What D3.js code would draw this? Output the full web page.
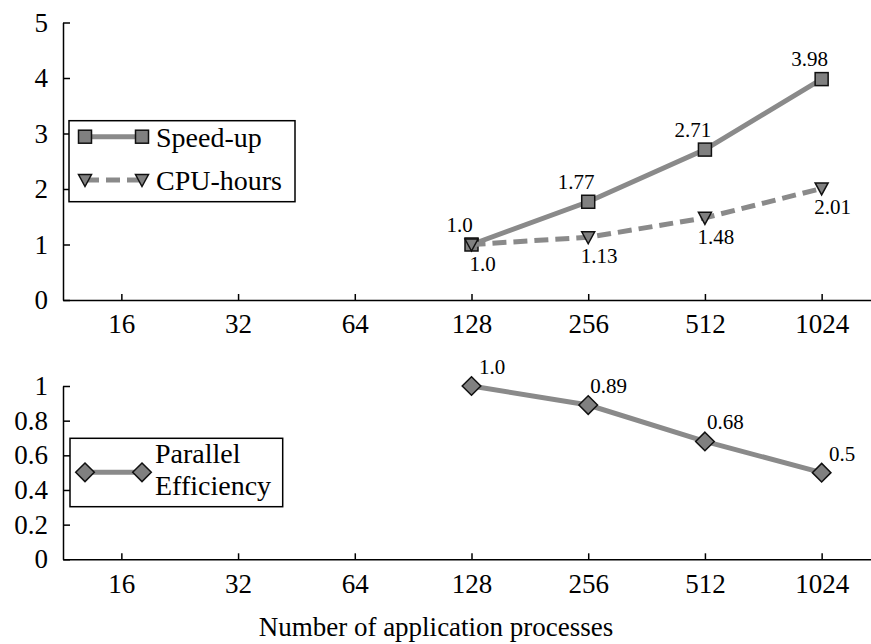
<!DOCTYPE html>
<html>
<head>
<meta charset="utf-8">
<script src="https://cdn.jsdelivr.net/npm/d3@7"></script>
<style>
  body { margin: 0; background: #fff; }
</style>
</head>
<body>
<script>
  const categories = ['16', '32', '64', '128', '256', '512', '1024'];
  const procCounts = ['128', '256', '512', '1024'];
  const speedUp = [1.0, 1.77, 2.71, 3.98];
  const speedUpLabels = ['1.0', '1.77', '2.71', '3.98'];
  const cpuHours = [1.0, 1.13, 1.48, 2.01];
  const cpuHoursLabels = ['1.0', '1.13', '1.48', '2.01'];
  const efficiency = [1.0, 0.89, 0.68, 0.5];
  const efficiencyLabels = ['1.0', '0.89', '0.68', '0.5'];
  const topTicks = [0, 1, 2, 3, 4, 5];
  const bottomTicks = [0, 0.2, 0.4, 0.6, 0.8, 1];

  const width = 871;
  const height = 644;
  const serif = 'Liberation Serif';
  const lineColor = '#8a8a8a';
  const markFill = '#808080';

  const svg = d3
    .select('body')
    .append('svg')
    .attr('width', width)
    .attr('height', height)
    .style('font-family', serif);

  const x = d3.scalePoint().domain(categories).range([63, 880]).padding(0.5);
  const yTop = d3.scaleLinear().domain([0, 5]).range([300, 22.5]);
  const yBot = d3.scaleLinear().domain([0, 1]).range([559.3, 386]);

  function drawAxes(yScale, ticks, fmt, xPad) {
    const y0 = yScale(0);
    const gx = svg.append('g')
      .attr('transform', `translate(0, ${y0})`)
      .call(d3.axisBottom(x).tickSize(-6).tickSizeOuter(0).tickPadding(xPad));
    const gy = svg.append('g')
      .attr('transform', 'translate(63, 0)')
      .call(d3.axisLeft(yScale).tickValues(ticks).tickFormat(fmt)
        .tickSize(-7).tickSizeOuter(0).tickPadding(15));
    [gx, gy].forEach((g) => {
      g.attr('font-family', serif).attr('font-size', 27);
      g.selectAll('text').style('font-family', serif).style('font-size', '27px');
      g.selectAll('path, line').attr('stroke', '#000').attr('stroke-width', 1.5);
    });
  }

  drawAxes(yTop, topTicks, d3.format('d'), 14);
  drawAxes(yBot, bottomTicks, (d) => String(d), 15);

  const square = (g, cx, cy) => g.append('rect')
    .attr('x', cx - 6.5).attr('y', cy - 6.5).attr('width', 13).attr('height', 13)
    .attr('fill', markFill).attr('stroke', '#111').attr('stroke-width', 1.5);
  const triangle = (g, cx, cy) => g.append('path')
    .attr('d', `M${cx - 6.5},${cy - 5.5}L${cx + 6.5},${cy - 5.5}L${cx},${cy + 6.5}Z`)
    .attr('fill', markFill).attr('stroke', '#111').attr('stroke-width', 1.5);
  const diamond = (g, cx, cy) => g.append('path')
    .attr('d', `M${cx},${cy - 9.3}L${cx + 9.3},${cy}L${cx},${cy + 9.3}L${cx - 9.3},${cy}Z`)
    .attr('fill', markFill).attr('stroke', '#111').attr('stroke-width', 1.5);

  function drawSeries(values, labels, yScale, marker, dash, lblDx, lblDy) {
    const pts = values.map((v, i) => [x(procCounts[i]), yScale(v), labels[i]]);
    svg.append('path')
      .attr('d', d3.line()(pts.map((p) => [p[0], p[1]])))
      .attr('fill', 'none')
      .attr('stroke', lineColor)
      .attr('stroke-width', 5)
      .attr('stroke-dasharray', dash);
    const g = svg.append('g');
    pts.forEach((p) => marker(g, p[0], p[1]));
    g.selectAll('text.lbl')
      .data(pts)
      .enter()
      .append('text')
      .attr('class', 'lbl')
      .attr('x', (p) => p[0] + lblDx)
      .attr('y', (p) => p[1] + lblDy)
      .attr('text-anchor', 'middle')
      .style('font-family', serif)
      .style('font-size', '21px')
      .text((p) => p[2]);
  }

  drawSeries(speedUp, speedUpLabels, yTop, square, null, -12, -13);
  drawSeries(cpuHours, cpuHoursLabels, yTop, triangle, '14,7', 11, 26);
  drawSeries(efficiency, efficiencyLabels, yBot, diamond, null, 20.5, -12);

  // legend top
  const legTop = svg.append('g');
  legTop.append('rect')
    .attr('x', 69).attr('y', 120.7).attr('width', 226).attr('height', 81)
    .attr('fill', '#fff').attr('stroke', '#000').attr('stroke-width', 1.5);
  [[136.7, 'Speed-up', square, null], [180, 'CPU-hours', triangle, '14,7']].forEach(([ly, name, mk, dash]) => {
    legTop.append('line')
      .attr('x1', 85).attr('x2', 142).attr('y1', ly).attr('y2', ly)
      .attr('stroke', lineColor).attr('stroke-width', 5).attr('stroke-dasharray', dash);
    mk(legTop, 85, ly);
    mk(legTop, 142, ly);
    legTop.append('text').attr('x', 156).attr('y', ly).attr('dy', '0.35em')
      .style('font-family', serif).style('font-size', '28px').text(name);
  });

  // legend bottom
  const legBot = svg.append('g');
  legBot.append('rect')
    .attr('x', 70).attr('y', 438.3).attr('width', 212.7).attr('height', 68.4)
    .attr('fill', '#fff').attr('stroke', '#000').attr('stroke-width', 1.5);
  legBot.append('line')
    .attr('x1', 85).attr('x2', 142).attr('y1', 472.3).attr('y2', 472.3)
    .attr('stroke', lineColor).attr('stroke-width', 5);
  diamond(legBot, 85, 472.3);
  diamond(legBot, 142, 472.3);
  legBot.append('text').attr('x', 155).attr('y', 463)
    .style('font-family', serif).style('font-size', '28px').text('Parallel');
  legBot.append('text').attr('x', 155).attr('y', 495)
    .style('font-family', serif).style('font-size', '28px').text('Efficiency');

  svg.append('text')
    .attr('x', 436).attr('y', 636)
    .attr('text-anchor', 'middle')
    .style('font-family', serif)
    .style('font-size', '27px')
    .text('Number of application processes');
</script>
</body>
</html>
